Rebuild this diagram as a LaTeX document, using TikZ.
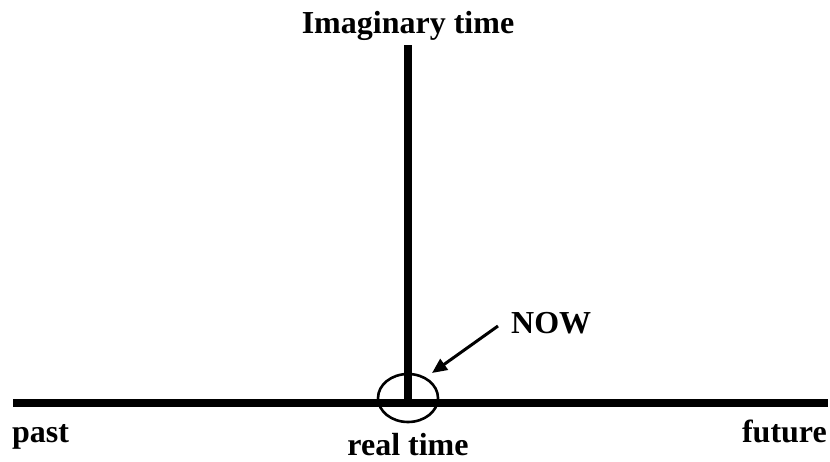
\documentclass[tikz,border=0pt]{standalone}
\usepackage{fontspec}
\setmainfont{Liberation Serif}
\usetikzlibrary{shapes.geometric,arrows.meta}

\tikzset{
  axis/.style={line width=8pt},
  lbl/.style={font=\fontsize{32}{36}\selectfont\bfseries, inner sep=0pt},
  ring/.style={draw, ellipse, line width=2.6pt, minimum width=60pt, minimum height=48pt, inner sep=0pt},
  pointer/.style={line width=3pt, -{Triangle[length=15pt,width=13pt]}}
}

\begin{document}
\begin{tikzpicture}[x=1pt,y=-1pt]
\useasboundingbox (0,0) rectangle (830,461);

% Axes
\coordinate (west) at (13,403);
\coordinate (east) at (828,403);
\coordinate (origin) at (408,403);
\coordinate (top) at (408,45);
\draw[axis] (west) -- (east);
\draw[axis] (origin) -- (top);

% Labels
\node[lbl, anchor=base] (imag) at (408,33) {Imaginary time};
\node[lbl, anchor=base west] (past) at (12,442) {past};
\node[lbl, anchor=base east] (future) at (827,442) {future};
\node[lbl, anchor=base] (real) at (408,455) {real time};
\node[lbl, anchor=base west] (nowlbl) at (511,333) {NOW};

% Marker for the present
\node[ring] (now) at (408,398) {};
\coordinate (tail) at (498,326);
\coordinate (tip) at (432,373);
\draw[pointer] (tail) -- (tip);
\end{tikzpicture}
\end{document}
